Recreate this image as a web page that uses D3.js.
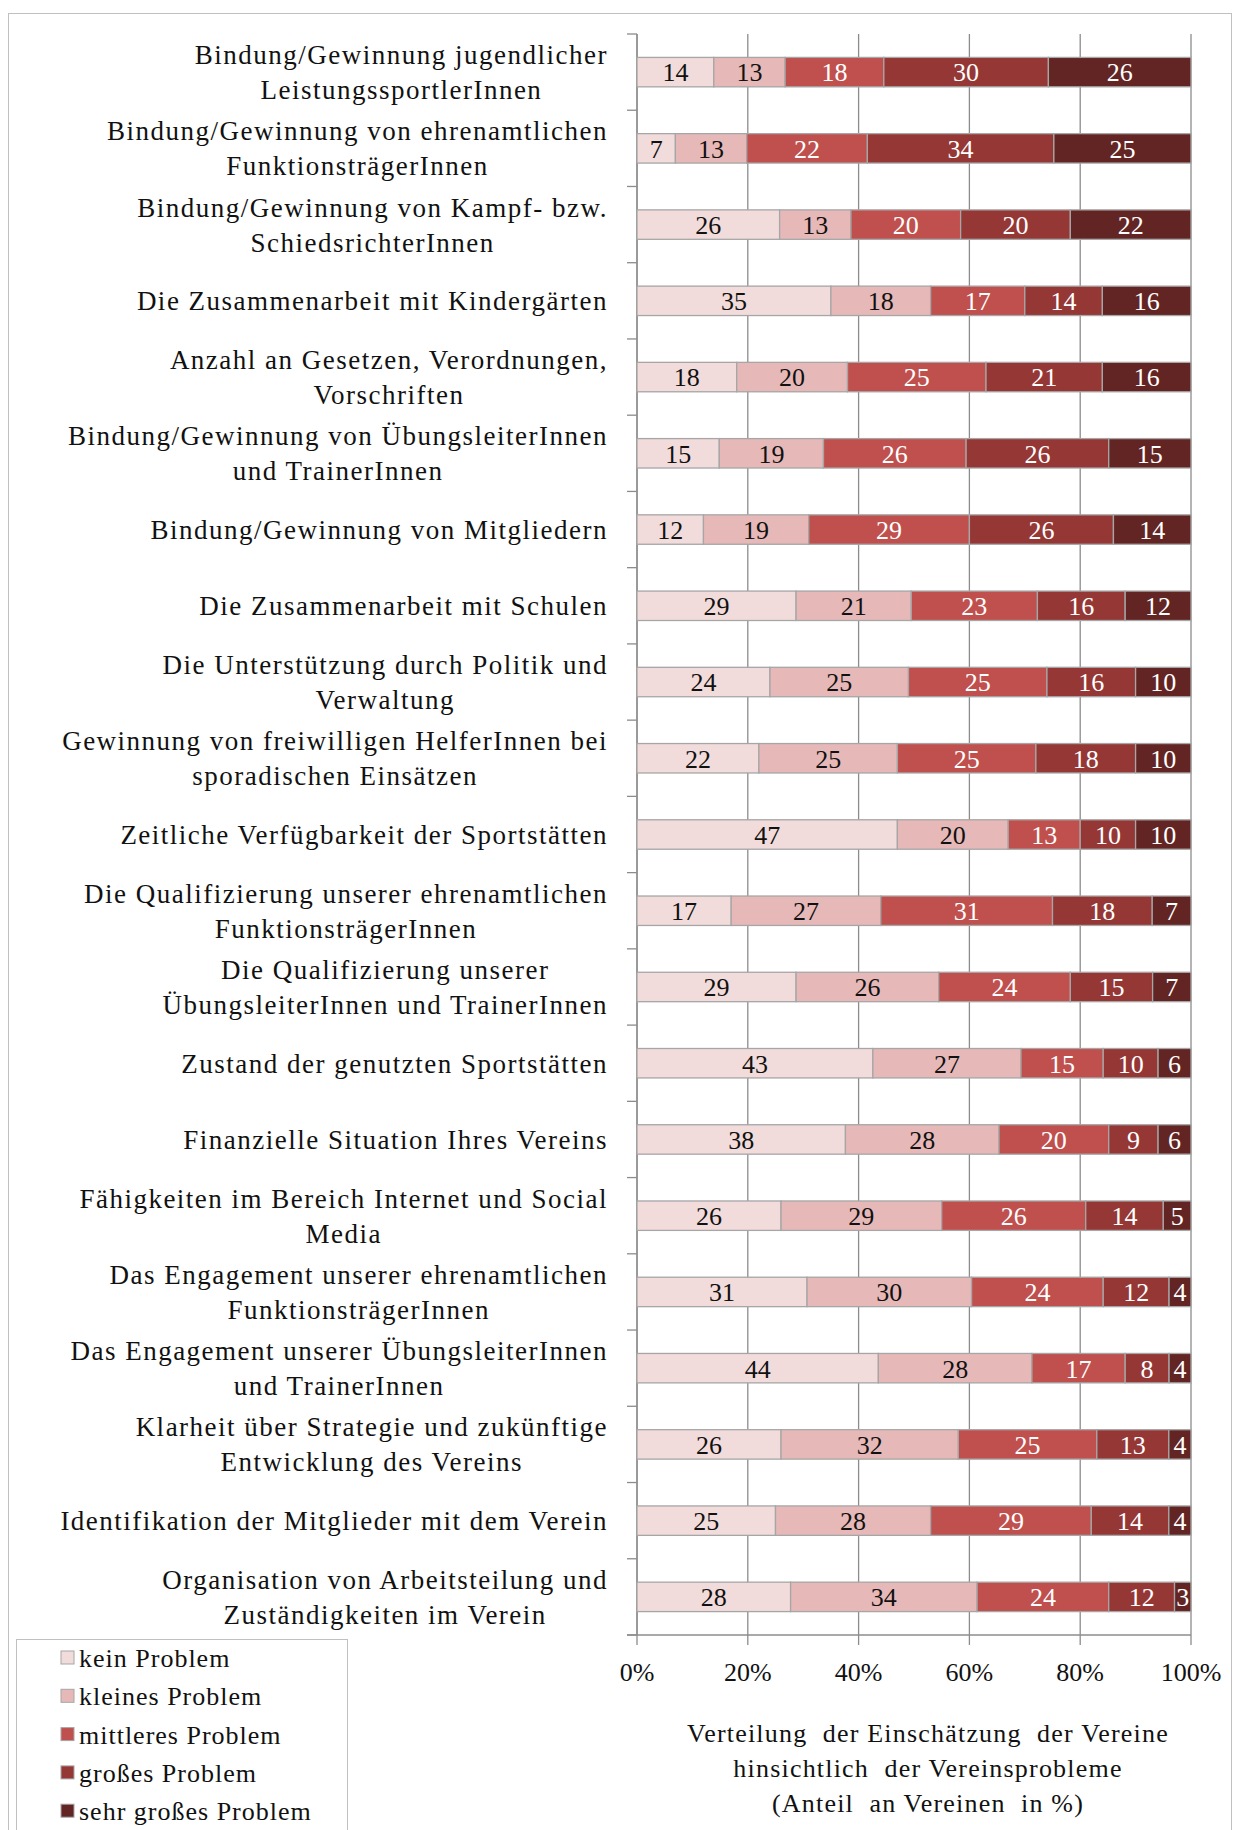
<!DOCTYPE html>
<html><head><meta charset="utf-8">
<script src="https://cdn.jsdelivr.net/npm/d3@7"></script>
<style>body{margin:0;background:#fff}svg{display:block}text{font-family:"Liberation Serif","Times New Roman",serif}</style>
</head><body>
<svg id="c" width="1234" height="1830"></svg>
<script>
const categories = [
  ["Bindung/Gewinnung jugendlicher","LeistungssportlerInnen"],
  ["Bindung/Gewinnung von ehrenamtlichen","FunktionsträgerInnen"],
  ["Bindung/Gewinnung von Kampf- bzw.","SchiedsrichterInnen"],
  ["Die Zusammenarbeit mit Kindergärten"],
  ["Anzahl an Gesetzen, Verordnungen,","Vorschriften"],
  ["Bindung/Gewinnung von ÜbungsleiterInnen","und TrainerInnen"],
  ["Bindung/Gewinnung von Mitgliedern"],
  ["Die Zusammenarbeit mit Schulen"],
  ["Die Unterstützung durch Politik und","Verwaltung"],
  ["Gewinnung von freiwilligen HelferInnen bei","sporadischen Einsätzen"],
  ["Zeitliche Verfügbarkeit der Sportstätten"],
  ["Die Qualifizierung unserer ehrenamtlichen","FunktionsträgerInnen"],
  ["Die Qualifizierung unserer","ÜbungsleiterInnen und TrainerInnen"],
  ["Zustand der genutzten Sportstätten"],
  ["Finanzielle Situation Ihres Vereins"],
  ["Fähigkeiten im Bereich Internet und Social","Media"],
  ["Das Engagement unserer ehrenamtlichen","FunktionsträgerInnen"],
  ["Das Engagement unserer ÜbungsleiterInnen","und TrainerInnen"],
  ["Klarheit über Strategie und zukünftige","Entwicklung des Vereins"],
  ["Identifikation der Mitglieder mit dem Verein"],
  ["Organisation von Arbeitsteilung und","Zuständigkeiten im Verein"]
];
const seriesNames = ["kein Problem","kleines Problem","mittleres Problem","großes Problem","sehr großes Problem"];
const keinProblem      = [14,7,26,35,18,15,12,29,24,22,47,17,29,43,38,26,31,44,26,25,28];
const kleinesProblem   = [13,13,13,18,20,19,19,21,25,25,20,27,26,27,28,29,30,28,32,28,34];
const mittleresProblem = [18,22,20,17,25,26,29,23,25,25,13,31,24,15,20,26,24,17,25,29,24];
const grossesProblem   = [30,34,20,14,21,26,26,16,16,18,10,18,15,10,9,14,12,8,13,14,12];
const sehrGrosses      = [26,25,22,16,16,15,14,12,10,10,10,7,7,6,6,5,4,4,4,4,3];
const xTicks = [0,20,40,60,80,100];
const axisTitle = ["Verteilung  der Einschätzung  der Vereine","hinsichtlich  der Vereinsprobleme","(Anteil  an Vereinen  in %)"];
const colors = ["#F2DCDB","#E6B9B8","#C0504D","#953735","#632523"];
const textColors = ["#111","#111","#fff","#fff","#fff"];

const seriesVals = [keinProblem,kleinesProblem,mittleresProblem,grossesProblem,sehrGrosses];
const rows = categories.map((c,i)=>{
  const o = {id:i};
  seriesNames.forEach((s,j)=>o[s]=seriesVals[j][i]);
  return o;
});
const stack = d3.stack().keys(seriesNames).offset(d3.stackOffsetExpand);
const stacked = stack(rows);

const svg = d3.select("#c");
const X0=637, X1=1191, Y0=34, Y1=1635;
const x = d3.scaleLinear().domain([0,1]).range([X0,X1]);
const y = d3.scaleBand().domain(d3.range(categories.length)).range([Y0,Y1]).paddingInner(0.614).paddingOuter(0.307);

// outer border
svg.append("rect").attr("x",8.5).attr("y",13.5).attr("width",1223).attr("height",1830).attr("fill","none").attr("stroke","#c0c0c0");

// gridlines
svg.append("g").selectAll("line").data(xTicks).join("line")
  .attr("x1",d=>x(d/100)).attr("x2",d=>x(d/100)).attr("y1",Y0).attr("y2",Y1)
  .attr("stroke","#8c8c8c").attr("stroke-width",1.3);

// left axis line and ticks at boundaries
const step = y.step();
const bounds = d3.range(categories.length+1).map(i=> i<categories.length ? y(i)+y.bandwidth()/2-step/2 : y(i-1)+y.bandwidth()/2+step/2);
svg.append("line").attr("x1",X0).attr("x2",X0).attr("y1",Y0).attr("y2",Y1).attr("stroke","#8c8c8c").attr("stroke-width",1.3);
svg.append("g").selectAll("line").data(bounds).join("line")
  .attr("x1",X0-10).attr("x2",X0).attr("y1",d=>d).attr("y2",d=>d).attr("stroke","#8c8c8c").attr("stroke-width",1.3);
// bottom axis
svg.append("line").attr("x1",X0-10).attr("x2",X1).attr("y1",Y1).attr("y2",Y1).attr("stroke","#8c8c8c").attr("stroke-width",1.3);
svg.append("g").selectAll("line").data(xTicks).join("line")
  .attr("x1",d=>x(d/100)).attr("x2",d=>x(d/100)).attr("y1",Y1).attr("y2",Y1+10).attr("stroke","#8c8c8c").attr("stroke-width",1.3);
svg.append("g").selectAll("text").data(xTicks).join("text")
  .attr("x",d=>x(d/100)).attr("y",1672).attr("dy","0.35em").attr("text-anchor","middle")
  .attr("font-size",26).attr("fill","#111").text(d=>d+"%");

// bars
const g = svg.append("g");
stacked.forEach((ser,j)=>{
  const gg = g.append("g");
  gg.selectAll("rect").data(ser).join("rect")
    .attr("x",d=>x(d[0])).attr("width",d=>x(d[1])-x(d[0]))
    .attr("y",(d,i)=>y(i)).attr("height",y.bandwidth())
    .attr("fill",colors[j]).attr("stroke","#a6a6a6").attr("stroke-width",1.3);
  gg.selectAll("text").data(ser).join("text")
    .attr("x",d=>(x(d[0])+x(d[1]))/2).attr("y",(d,i)=>y(i)+y.bandwidth()/2).attr("dy","0.36em")
    .attr("text-anchor","middle").attr("font-size",26).attr("fill",textColors[j])
    .text((d,i)=>seriesVals[j][i]);
});

// category labels
const LR = 608;
categories.forEach((lines,i)=>{
  const cy = y(i)+y.bandwidth()/2;
  const grp = svg.append("g");
  const n = lines.length;
  const ts = lines.map((l,k)=>grp.append("text").attr("font-size",27).attr("letter-spacing","1.5px").attr("fill","#111")
    .attr("y",cy + (k-(n-1)/2)*35).attr("dy","0.35em").attr("text-anchor","middle").text(l));
  const w = d3.max(ts,t=>t.node().getComputedTextLength());
  ts.forEach(t=>t.attr("x",LR-w/2));
});

// axis title
svg.append("g").selectAll("text").data(axisTitle).join("text")
  .attr("x",928).attr("y",(d,i)=>1733+i*35).attr("dy","0.35em").attr("text-anchor","middle")
  .attr("font-size",26).attr("letter-spacing","1.2px").attr("fill","#111").attr("xml:space","preserve").style("white-space","pre").text(d=>d);

// legend
svg.append("rect").attr("x",16.5).attr("y",1639.5).attr("width",331).attr("height",260).attr("fill","#fff").attr("stroke","#c0c0c0");
const lg = svg.append("g").selectAll("g").data(seriesNames).join("g")
  .attr("transform",(d,i)=>`translate(0,${1658+i*38.3})`);
lg.append("rect").attr("x",61).attr("y",-7).attr("width",13).attr("height",13)
  .attr("fill",(d,i)=>colors[i]).attr("stroke","#a6a6a6");
lg.append("text").attr("x",79).attr("dy","0.35em").attr("font-size",26).attr("letter-spacing","1px").attr("fill","#111").text(d=>d);
</script>
</body></html>
